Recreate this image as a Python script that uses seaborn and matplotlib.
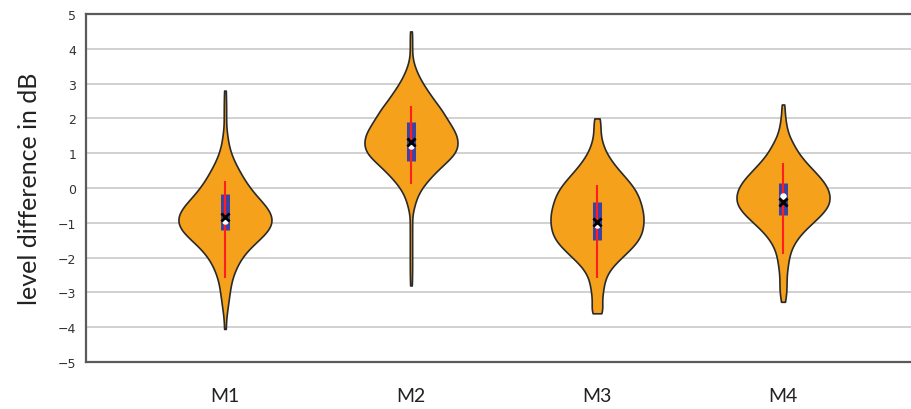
import numpy as np
import pandas as pd
import matplotlib
matplotlib.use("Agg")
import matplotlib.pyplot as plt
import seaborn as sns

# Measured level differences, binned: bin centres (dB) and observation counts
categories = ["M1", "M2", "M3", "M4"]

m1_levels = [-4.05, -3.75, -3.5, -3.25, -3.0, -2.75, -2.5, -2.25, -2.0, -1.75, -1.5,
             -1.25, -1.0, -0.75, -0.5, -0.25, 0.0, 0.25, 0.5, 0.75, 1.0, 1.25, 1.5,
             1.75, 2.0, 2.25, 2.5, 2.8]
m1_counts = [1, 1, 2, 3, 4, 5, 7, 10, 14, 20, 28, 36, 40, 39, 34, 27, 21, 16, 12, 8,
             5, 3, 2, 1, 1, 1, 1, 1]

m2_levels = [-2.8, -2.5, -2.25, -2.0, -1.75, -1.5, -1.25, -1.0, -0.75, -0.5, -0.25,
             0.0, 0.25, 0.5, 0.75, 1.0, 1.25, 1.5, 1.75, 2.0, 2.25, 2.5, 2.75, 3.0,
             3.25, 3.5, 3.75, 4.0, 4.25, 4.5]
m2_counts = [1, 1, 1, 1, 1, 1, 1, 1, 1, 3, 5, 9, 15, 22, 30, 38, 40, 39, 35, 30, 26,
             20, 15, 10, 6, 3, 1, 1, 1, 1]

m3_levels = [-3.6, -3.5, -3.25, -3.0, -2.75, -2.5, -2.25, -2.0, -1.75, -1.5, -1.25,
             -1.0, -0.75, -0.5, -0.25, 0.0, 0.25, 0.5, 0.75, 1.0, 1.25, 1.5, 1.75, 2.0]
m3_counts = [3, 4, 4, 5, 6, 8, 13, 21, 29, 36, 39, 40, 40, 38, 36, 32, 26, 19, 13, 8,
             5, 3, 3, 3]

m4_levels = [-3.27, -3.0, -2.75, -2.5, -2.25, -2.0, -1.75, -1.5, -1.25, -1.0, -0.75,
             -0.5, -0.25, 0.0, 0.25, 0.5, 0.75, 1.0, 1.25, 1.5, 1.75, 2.0, 2.25, 2.4]
m4_counts = [2, 3, 3, 3, 4, 5, 7, 11, 17, 25, 33, 39, 40, 38, 33, 26, 19, 13, 9, 5,
             3, 2, 1, 1]

# Summary statistics per measurement
medians = [-0.95, 1.22, -1.07, -0.22]
means = [-0.82, 1.33, -0.97, -0.39]
q1 = [-1.2, 0.78, -1.48, -0.78]
q3 = [-0.17, 1.9, -0.4, 0.14]
whisker_low = [-2.58, 0.12, -2.58, -1.91]
whisker_high = [0.19, 2.37, 0.1, 0.72]

yticks = [-5, -4, -3, -2, -1, 0, 1, 2, 3, 4, 5]

levels = [m1_levels, m2_levels, m3_levels, m4_levels]
counts = [m1_counts, m2_counts, m3_counts, m4_counts]
frames = []
for name, lv, ct in zip(categories, levels, counts):
    frames.append(pd.DataFrame({"method": name,
                                "level": np.repeat(np.array(lv, float), ct)}))
df = pd.concat(frames, ignore_index=True)

sns.set_style("white")
fig = plt.figure(figsize=(9.11, 4.10), dpi=100)
ax = fig.add_axes([0.0944, 0.1146, 0.9056, 0.8488])

for y in yticks:
    ax.axhline(y, color="#c9c9c9", lw=1.2, zorder=0)

sns.violinplot(data=df, x="method", y="level", order=categories,
               color="#F5A11C", saturation=1, width=0.5, density_norm="width",
               cut=0, bw_method=0.19, inner=None, linecolor="#2a2a2a",
               linewidth=1.2, gridsize=300, ax=ax)

pos = np.arange(len(categories))
ax.vlines(pos, q1, q3, color="#3D43A2", lw=6.5, zorder=3)
ax.vlines(pos, whisker_low, whisker_high, color="#FF1E1E", lw=1.5, zorder=4)
ax.scatter(pos, medians, s=22, color="white", zorder=5, linewidths=0)
ax.scatter(pos, means, s=34, marker="x", color="black", linewidths=2, zorder=6)

ax.set_xlim(-0.747, 3.688)
ax.set_ylim(-5, 5)
ax.set_yticks(yticks)
ax.set_yticklabels([str(v).replace("-", "\u2212") for v in yticks],
                   fontsize=9, color="#333333")
ax.set_xticks(pos)
ax.set_xticklabels(categories, fontsize=14, color="#222222", family="Lato")
ax.tick_params(axis="y", direction="out", length=4, width=0.8, color="#555555", pad=3)
ax.tick_params(axis="x", direction="out", length=4, width=0.8, color="#555555", pad=14)
ax.set_xlabel("")
ax.set_ylabel("level difference in dB", fontsize=18, family="Lato", color="#222222",
              labelpad=12)

for side in ["top", "bottom", "left"]:
    ax.spines[side].set_color("#5a5a5a")
    ax.spines[side].set_linewidth(1.6)
ax.spines["right"].set_visible(False)

fig.savefig("out.png", dpi=100)
